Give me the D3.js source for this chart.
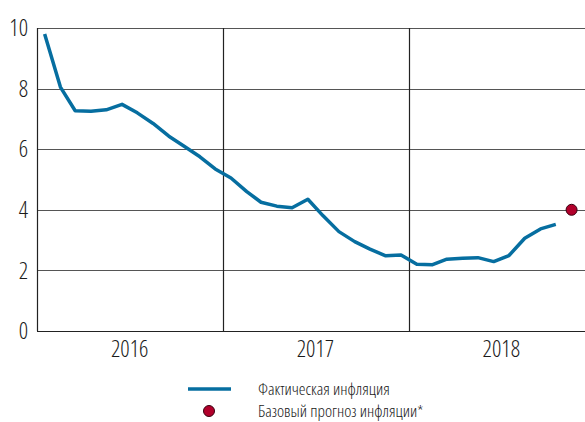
<!DOCTYPE html>
<html>
<head>
<meta charset="utf-8">
<script src="https://cdn.jsdelivr.net/npm/d3@7"></script>
<style>
    body { margin: 0; background: #fff; }
    text { font-family: "Open Sans", sans-serif; font-stretch: condensed; font-weight: 350; fill: #1a1a1a; }
</style>
</head>
<body>
<div id="chart"></div>
<script>
// monthly inflation, % (Jan 2016 - Oct 2018)
var months = [
    "2016-01", "2016-02", "2016-03", "2016-04", "2016-05", "2016-06",
    "2016-07", "2016-08", "2016-09", "2016-10", "2016-11", "2016-12",
    "2017-01", "2017-02", "2017-03", "2017-04", "2017-05", "2017-06",
    "2017-07", "2017-08", "2017-09", "2017-10", "2017-11", "2017-12",
    "2018-01", "2018-02", "2018-03", "2018-04", "2018-05", "2018-06",
    "2018-07", "2018-08", "2018-09", "2018-10"
];
var actual = [
    9.8, 8.05, 7.27, 7.25, 7.3, 7.48,
    7.2, 6.85, 6.43, 6.1, 5.75, 5.35,
    5.05, 4.6, 4.25, 4.12, 4.07, 4.35,
    3.8, 3.28, 2.95, 2.7, 2.48, 2.51,
    2.2, 2.19, 2.37, 2.4, 2.42, 2.29,
    2.49, 3.06, 3.37, 3.52
];
var forecastMonth = "2018-11";
var forecastValue = 4.0;
var years = [2016, 2017, 2018];
var yTicks = [0, 2, 4, 6, 8, 10];
var legendLabels = ["Фактическая инфляция", "Базовый прогноз инфляции*"];

var w = 585, h = 422,
    margin = {top: 28, right: 0, bottom: 91, left: 37};

var svg = d3.select("#chart").append("svg")
    .attr("width", w)
    .attr("height", h);

var parse = d3.timeParse("%Y-%m");
function mid(m) {
    var d = parse(m);
    return new Date(d.getFullYear(), d.getMonth(), 16);
}

var x = d3.scaleTime()
    .domain([new Date(2016, 0, 1), new Date(2019, 0, 1)])
    .range([margin.left, margin.left + 558]);
var y = d3.scaleLinear()
    .domain([0, 10])
    .range([h - margin.bottom, margin.top]);

// horizontal grid
svg.append("g")
    .selectAll("line")
    .data(yTicks)
    .enter().append("line")
    .attr("x1", margin.left)
    .attr("x2", w)
    .attr("y1", function (d) { return Math.round(y(d)) + 0.5; })
    .attr("y2", function (d) { return Math.round(y(d)) + 0.5; })
    .style("stroke", function (d) { return d == 0 ? "#222" : "#555"; })
    .style("stroke-width", 1.2);

// vertical lines at year boundaries
svg.append("g")
    .selectAll("line")
    .data([2016, 2017, 2018])
    .enter().append("line")
    .attr("x1", function (d) { return Math.round(x(new Date(d, 0, 1))) + 0.5; })
    .attr("x2", function (d) { return Math.round(x(new Date(d, 0, 1))) + 0.5; })
    .attr("y1", y(10))
    .attr("y2", y(0))
    .style("stroke", "#222")
    .style("stroke-width", 1.2);

// y labels
svg.append("g")
    .selectAll("text")
    .data(yTicks)
    .enter().append("text")
    .attr("x", 28)
    .attr("y", function (d) { return y(d); })
    .attr("dy", "0.36em")
    .attr("text-anchor", "end")
    .style("font-size", "23px")
    .text(function (d) { return d; });

// year labels
svg.append("g")
    .selectAll("text")
    .data(years)
    .enter().append("text")
    .attr("x", function (d) { return x(new Date(d, 6, 1)); })
    .attr("y", 357)
    .attr("text-anchor", "middle")
    .style("font-size", "23px")
    .text(function (d) { return d; });

var line = d3.line()
    .x(function (d, i) { return x(mid(months[i])); })
    .y(function (d) { return y(d); });

svg.append("path")
    .datum(actual)
    .attr("d", line)
    .style("fill", "none")
    .style("stroke", "#066ea0")
    .style("stroke-width", 3.5)
    .style("stroke-linejoin", "round");

svg.append("circle")
    .attr("cx", x(mid(forecastMonth)))
    .attr("cy", y(forecastValue))
    .attr("r", 5.5)
    .style("fill", "#b1002b")
    .style("stroke", "#3a0010")
    .style("stroke-width", 1);

// legend
var legend = svg.append("g");
legend.append("line")
    .attr("x1", 188)
    .attr("x2", 231)
    .attr("y1", 389)
    .attr("y2", 389)
    .style("stroke", "#066ea0")
    .style("stroke-width", 3.5);
legend.append("circle")
    .attr("cx", 209)
    .attr("cy", 411)
    .attr("r", 5.5)
    .style("fill", "#b1002b")
    .style("stroke", "#3a0010")
    .style("stroke-width", 1);
legend.selectAll("text")
    .data(legendLabels)
    .enter().append("text")
    .attr("x", 258)
    .attr("y", function (d, i) { return 395 + i * 22; })
    .style("font-size", "17px")
    .text(function (d) { return d; });
</script>
</body>
</html>
